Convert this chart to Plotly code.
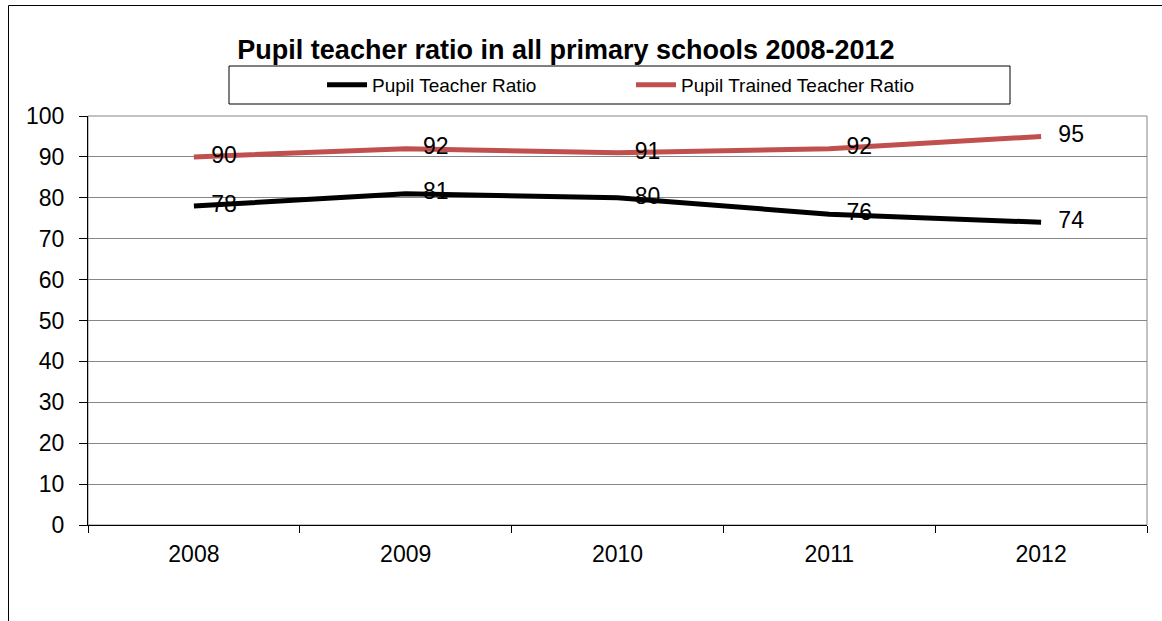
import plotly.graph_objects as go

years = ["2008", "2009", "2010", "2011", "2012"]
pupil_teacher = [78, 81, 80, 76, 74]
pupil_trained_teacher = [90, 92, 91, 92, 95]
y_ticks = [0, 10, 20, 30, 40, 50, 60, 70, 80, 90, 100]

FONT = "Liberation Sans, Arial, sans-serif"
W, H = 1162, 621
# plot area in pixels: x 88..1147, y 116..525
L, T = 88, 116
R = W - 1147
B = H - 525
PW, PH = W - L - R, H - T - B

def px_x(p):
    return (p - L) / PW

def px_y(p):
    return (H - B - p) / PH

label_font = dict(size=23, color="black", family=FONT)

fig = go.Figure()
fig.add_trace(go.Scatter(
    x=years, y=pupil_teacher, name="Pupil Teacher Ratio",
    mode="lines+markers+text", text=[str(v) for v in pupil_teacher],
    textposition="middle right", textfont=label_font,
    marker=dict(size=26, color="rgba(0,0,0,0)"),
    line=dict(color="black", width=5), cliponaxis=False,
))
fig.add_trace(go.Scatter(
    x=years, y=pupil_trained_teacher, name="Pupil Trained Teacher Ratio",
    mode="lines+markers+text", text=[str(v) for v in pupil_trained_teacher],
    textposition="middle right", textfont=label_font,
    marker=dict(size=26, color="rgba(0,0,0,0)"),
    line=dict(color="#C0504D", width=5), cliponaxis=False,
))

shapes = [
    # outer chart border
    dict(type="rect", xref="paper", yref="paper", x0=px_x(8.5), x1=px_x(1180),
         y0=px_y(640), y1=px_y(5.5), line=dict(color="black", width=1), layer="below"),
    # plot area border
    dict(type="rect", xref="paper", yref="paper", x0=0, x1=1, y0=0, y1=1,
         line=dict(color="#868686", width=1), layer="below"),
    # legend box
    dict(type="rect", xref="paper", yref="paper", x0=px_x(229), x1=px_x(1010),
         y0=px_y(104), y1=px_y(66), line=dict(color="black", width=1), fillcolor="white"),
]

fig.update_layout(
    width=W, height=H,
    margin=dict(l=L, r=R, t=T, b=B),
    paper_bgcolor="white", plot_bgcolor="white",
    font=dict(family=FONT, color="black", size=23),
    title=dict(text="<b>Pupil teacher ratio in all primary schools 2008-2012</b>",
               x=566 / W, xanchor="center", y=1 - 50 / H, yanchor="middle",
               font=dict(size=27, family=FONT, color="black")),
    showlegend=True,
    legend=dict(orientation="h", x=px_x(322), xanchor="left", y=px_y(85), yanchor="middle",
                bgcolor="rgba(0,0,0,0)", borderwidth=0, entrywidth=254,
                font=dict(size=19, family=FONT, color="black"), itemwidth=40),
    shapes=shapes,
    xaxis=dict(type="category", range=[-0.5, 4.5], tickson="boundaries", ticks="outside",
               ticklen=7, tickcolor="black", showline=True, linecolor="black", linewidth=1,
               showgrid=False, tickfont=dict(size=23), ticklabelstandoff=8),
    yaxis=dict(range=[0, 100], tickvals=y_ticks, ticks="outside", ticklen=8, tickcolor="black",
               showline=True, linecolor="black", linewidth=1, showgrid=True,
               gridcolor="#868686", gridwidth=1, zeroline=False, tickfont=dict(size=23),
               ticklabelstandoff=10),
)

fig.write_html(
    "out.html",
    config={"displayModeBar": False},
    post_script="document.body.style.margin='0';document.body.style.overflow='hidden';",
)
